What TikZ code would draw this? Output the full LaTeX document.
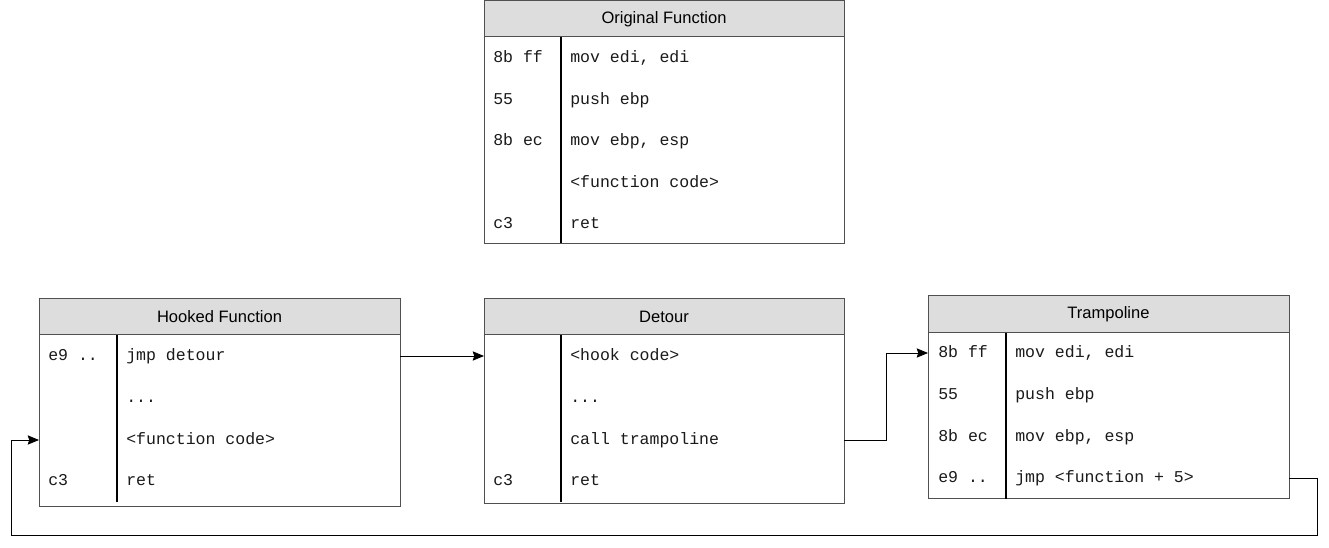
\documentclass[tikz,border=0pt]{standalone}
\usepackage{fontspec}
\setmainfont{Liberation Sans}
\setmonofont{Liberation Mono}
\usetikzlibrary{arrows.meta}
\definecolor{headgray}{HTML}{DDDDDD}
\definecolor{boxgray}{HTML}{505050}
\definecolor{codegray}{HTML}{1A1A1A}
\begin{document}
\begin{tikzpicture}[x=0.75pt,y=-0.75pt,
  boxframe/.style={draw=boxgray, line width=0.75pt, fill=white},
  headfill/.style={draw=boxgray, line width=0.75pt, fill=headgray},
  titletext/.style={font=\fontsize{12.4}{14}\selectfont, inner sep=0pt},
  codetext/.style={font=\ttfamily\fontsize{12.4}{14}\selectfont, text=codegray, anchor=base west, inner sep=0pt},
  divider/.style={line width=1.3pt, black},
  conn/.style={line width=0.65pt, black, -{Stealth[length=8.5pt,width=7pt,inset=1.2pt]}}
]
\useasboundingbox (0,0) rectangle (1329,548);

% ---------- Original Function ----------
\draw[boxframe] (484,0.6) rectangle (844,244);
\draw[headfill] (484,0.6) rectangle (844,37);
\node[titletext] (origT) at (664,19) {Original Function};
\draw[divider] (561,37) -- (561,243);
\node[codetext] (o1a) at (493,63) {8b ff};
\node[codetext] (o1b) at (570,63) {mov edi, edi};
\node[codetext] (o2a) at (493,105) {55};
\node[codetext] (o2b) at (570,105) {push ebp};
\node[codetext] (o3a) at (493,146) {8b ec};
\node[codetext] (o3b) at (570,146) {mov ebp, esp};
\node[codetext] (o4b) at (570,188) {<function code>};
\node[codetext] (o5a) at (493,229) {c3};
\node[codetext] (o5b) at (570,229) {ret};

% ---------- Hooked Function ----------
\draw[boxframe] (39,299) rectangle (400,507);
\draw[headfill] (39,299) rectangle (400,335);
\node[titletext] (hookT) at (219.5,317) {Hooked Function};
\draw[divider] (117,335) -- (117,502);
\node[codetext] (h1a) at (48,361) {e9 ..};
\node[codetext] (h1b) at (126,361) {jmp detour};
\node[codetext] (h2b) at (126,403) {...};
\node[codetext] (h3b) at (126,445) {<function code>};
\node[codetext] (h4a) at (48,486) {c3};
\node[codetext] (h4b) at (126,486) {ret};
\coordinate (hookE) at (400,356);
\coordinate (hookW) at (39,440);

% ---------- Detour ----------
\draw[boxframe] (484,299) rectangle (844,504);
\draw[headfill] (484,299) rectangle (844,335);
\node[titletext] (detT) at (664,317) {Detour};
\draw[divider] (561,335) -- (561,502);
\node[codetext] (d1b) at (570,361) {<hook code>};
\node[codetext] (d2b) at (570,403) {...};
\node[codetext] (d3b) at (570,445) {call trampoline};
\node[codetext] (d4a) at (493,486) {c3};
\node[codetext] (d4b) at (570,486) {ret};
\coordinate (detW) at (484,356);
\coordinate (detE) at (844,440);

% ---------- Trampoline ----------
\draw[boxframe] (928,296) rectangle (1289,499);
\draw[headfill] (928,296) rectangle (1289,333);
\node[titletext] (trT) at (1108.5,314.5) {Trampoline};
\draw[divider] (1006,333) -- (1006,499);
\node[codetext] (t1a) at (938,358) {8b ff};
\node[codetext] (t1b) at (1015,358) {mov edi, edi};
\node[codetext] (t2a) at (938,400) {55};
\node[codetext] (t2b) at (1015,400) {push ebp};
\node[codetext] (t3a) at (938,442) {8b ec};
\node[codetext] (t3b) at (1015,442) {mov ebp, esp};
\node[codetext] (t4a) at (938,483) {e9 ..};
\node[codetext] (t4b) at (1015,483) {jmp <function + 5>};
\coordinate (trW) at (928,353);
\coordinate (trE) at (1289,478);

% ---------- connectors ----------
\coordinate (bendA) at (886,440);
\coordinate (bendB) at (1317,535);
\coordinate (bendC) at (11,535);
\draw[conn] (hookE) -- (detW);
\draw[conn] (detE) -- (bendA) |- (trW);
\draw[conn] (trE) -| (bendB) -- (bendC) |- (hookW);
\end{tikzpicture}
\end{document}
